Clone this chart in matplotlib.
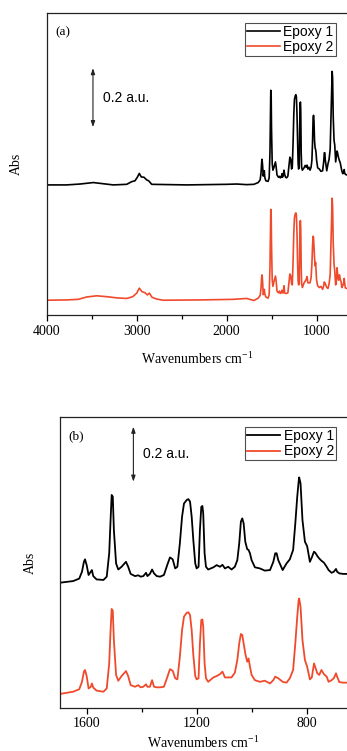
import matplotlib
matplotlib.use("Agg")
import matplotlib.pyplot as plt
from matplotlib.ticker import MultipleLocator

SERIF = "Liberation Serif"
SANS = "Liberation Sans"

# ---- data (absorbance, a.u.) ----
# high wavenumber region, 4000 - 1700 cm-1 (only visible in panel a)
wn_hi_1 = [4000, 3778, 3630, 3482, 3371, 3260, 3111, 3056, 3019, 2993, 2971, 2949,
           2919, 2889, 2867, 2833, 2667, 2444, 2222, 2000, 1889, 1778]
epoxy1_hi = [-0.002, -0.002, 0.001, 0.006, 0.002, -0.002, 0.000, 0.009, 0.012, 0.024,
             0.037, 0.025, 0.024, 0.015, 0.012, 0.000, -0.001, -0.002, -0.001, 0.000,
             0.001, -0.001]
wn_hi_2 = [4000, 3778, 3648, 3556, 3444, 3333, 3222, 3111, 3044, 3000, 2971, 2941,
           2911, 2881, 2859, 2830, 2778, 2704, 2296, 1926, 1778]
epoxy2_hi = [-0.001, 0.000, 0.002, 0.010, 0.014, 0.011, 0.007, 0.005, 0.011, 0.023,
             0.040, 0.028, 0.025, 0.017, 0.023, 0.009, 0.003, -0.001, 0.000, 0.002,
             0.005]

# fingerprint region, 1700 - 650 cm-1 (both panels)
wn_fp = [1698, 1650, 1628, 1618, 1611, 1607, 1601, 1594, 1586, 1582, 1577, 1565,
         1540, 1528, 1519, 1514, 1510, 1506, 1502, 1494, 1486, 1474, 1458, 1450,
         1441, 1425, 1413, 1405, 1395, 1385, 1380, 1371, 1363, 1356, 1346, 1334,
         1320, 1308, 1298, 1288, 1279, 1271, 1262, 1254, 1247, 1237, 1231, 1225,
         1219, 1213, 1206, 1201, 1194, 1189, 1184, 1180, 1177, 1172, 1167, 1159,
         1140, 1128, 1116, 1107, 1098, 1086, 1074, 1062, 1053, 1046, 1040, 1035,
         1030, 1024, 1017, 1012, 1007, 1001, 989, 971, 953, 934, 922, 915,
         910, 904, 888, 874, 862, 850, 842, 835, 830, 828, 823, 816,
         807, 799, 789, 782, 774, 768, 762, 755, 747, 738, 728, 721,
         710, 702, 694, 690, 682, 668, 656]
epoxy1_fp = [0.000, 0.006, 0.015, 0.040, 0.076, 0.085, 0.064, 0.028, 0.040, 0.046, 0.024, 0.012,
             0.010, 0.022, 0.107, 0.228, 0.319, 0.313, 0.192, 0.070, 0.048, 0.058, 0.076, 0.058,
             0.032, 0.024, 0.027, 0.022, 0.024, 0.036, 0.024, 0.032, 0.048, 0.034, 0.024, 0.022,
             0.028, 0.064, 0.092, 0.085, 0.052, 0.058, 0.143, 0.240, 0.288, 0.301, 0.304, 0.295,
             0.240, 0.155, 0.070, 0.052, 0.058, 0.192, 0.276, 0.279, 0.252, 0.107, 0.058, 0.048,
             0.056, 0.064, 0.058, 0.065, 0.052, 0.058, 0.048, 0.058, 0.082, 0.143, 0.222, 0.234,
             0.216, 0.149, 0.122, 0.119, 0.107, 0.082, 0.056, 0.052, 0.044, 0.046, 0.076, 0.107,
             0.107, 0.082, 0.046, 0.070, 0.085, 0.119, 0.216, 0.313, 0.367, 0.383, 0.361, 0.228,
             0.149, 0.133, 0.076, 0.092, 0.113, 0.107, 0.097, 0.088, 0.080, 0.073, 0.058, 0.046,
             0.036, 0.040, 0.050, 0.040, 0.034, 0.032, 0.032]
epoxy2_fp = [-0.002, 0.006, 0.015, 0.042, 0.079, 0.085, 0.063, 0.018, 0.024, 0.036, 0.021, 0.010,
             0.006, 0.018, 0.109, 0.230, 0.307, 0.301, 0.194, 0.067, 0.046, 0.063, 0.081, 0.063,
             0.030, 0.024, 0.030, 0.022, 0.024, 0.033, 0.024, 0.024, 0.048, 0.024, 0.022, 0.022,
             0.024, 0.058, 0.088, 0.082, 0.055, 0.051, 0.133, 0.230, 0.279, 0.293, 0.295, 0.285,
             0.230, 0.139, 0.063, 0.051, 0.055, 0.182, 0.267, 0.269, 0.242, 0.109, 0.055, 0.042,
             0.058, 0.063, 0.070, 0.079, 0.058, 0.058, 0.058, 0.075, 0.121, 0.182, 0.216, 0.212,
             0.182, 0.145, 0.115, 0.127, 0.097, 0.067, 0.048, 0.042, 0.046, 0.036, 0.048, 0.061,
             0.058, 0.055, 0.042, 0.039, 0.055, 0.085, 0.182, 0.279, 0.339, 0.345, 0.315, 0.194,
             0.121, 0.097, 0.051, 0.058, 0.109, 0.091, 0.073, 0.067, 0.085, 0.070, 0.061, 0.042,
             0.048, 0.055, 0.073, 0.061, 0.041, 0.039, 0.039]

labels = ["Epoxy 1", "Epoxy 2"]
colors = ["#000000", "#f04a2c"]

# full spectra
wn1 = wn_hi_1 + wn_fp
wn2 = wn_hi_2 + wn_fp
abs1 = epoxy1_hi + epoxy1_fp
abs2 = epoxy2_hi + epoxy2_fp

fig = plt.figure(figsize=(3.47, 7.51), dpi=100)

panels = [
    dict(rect=[0.1346, 0.5806, 0.8654, 0.4025], xlim=(4000, 663), ylim=(0, 1.025),
         off=(0.443, 0.051), major=1000, minor=500, tag="(a)",
         ax_x=3486, ax_y=(0.637, 0.837), full=True, lpad=9),
    dict(rect=[0.1729, 0.0577, 0.8271, 0.3866], xlim=(1698, 654), ylim=(0, 1.056),
         off=(0.4545, 0.052), major=400, minor=200, tag="(b)",
         ax_x=1431, ax_y=(0.822, 1.022), full=False, lpad=3),
]

for p in panels:
    ax = fig.add_axes(p["rect"])
    if p["full"]:
        ax.plot(wn1, [a + p["off"][0] for a in abs1], color=colors[0], lw=1.2, label=labels[0])
        ax.plot(wn2, [a + p["off"][1] for a in abs2], color=colors[1], lw=1.2, label=labels[1])
    else:
        ax.plot(wn_fp, [a + p["off"][0] for a in epoxy1_fp], color=colors[0], lw=1.3, label=labels[0])
        ax.plot(wn_fp, [a + p["off"][1] for a in epoxy2_fp], color=colors[1], lw=1.3, label=labels[1])
    ax.set_xlim(*p["xlim"])
    ax.set_ylim(*p["ylim"])
    ax.spines["right"].set_visible(False)
    for s in ("left", "top", "bottom"):
        ax.spines[s].set_color("#222222")
        ax.spines[s].set_linewidth(0.9)
    ax.set_yticks([])
    ax.xaxis.set_major_locator(MultipleLocator(p["major"]))
    ax.xaxis.set_minor_locator(MultipleLocator(p["minor"]))
    ax.tick_params(axis="x", which="major", direction="out", length=4, width=0.9,
                   labelsize=10, pad=3)
    ax.tick_params(axis="x", which="minor", direction="out", length=3, width=0.9)
    for t in ax.get_xticklabels():
        t.set_fontfamily(SERIF)
    ax.set_xlabel("Wavenumbers cm$^{\\mathregular{-1}}$", fontfamily=SERIF, fontsize=10,
                  labelpad=p["lpad"])
    ax.set_ylabel("Abs", fontfamily=SERIF, fontsize=10, labelpad=17)

    ax.text(0.03, 0.955, p["tag"], transform=ax.transAxes, fontfamily=SERIF,
            fontsize=9.5, va="top", ha="left")

    # 0.2 a.u. scale bar
    ax.annotate("", xy=(p["ax_x"], p["ax_y"][1]), xytext=(p["ax_x"], p["ax_y"][0]),
                arrowprops=dict(arrowstyle="<|-|>,head_length=0.35,head_width=0.12",
                                color="#222222", lw=0.8, shrinkA=0, shrinkB=0))
    ax.annotate("0.2 a.u.", xy=(p["ax_x"], sum(p["ax_y"]) / 2), xytext=(7, 0),
                textcoords="offset points", fontfamily=SANS, fontsize=10,
                va="center", ha="left")

    leg = ax.legend(loc="upper right", bbox_to_anchor=(0.963, 0.967), borderaxespad=0,
                    prop=dict(family=SANS, size=10), frameon=True, fancybox=False,
                    handlelength=2.4, handletextpad=0.25, borderpad=0.15,
                    labelspacing=0.1)
    leg.get_frame().set_edgecolor("#222222")
    leg.get_frame().set_linewidth(0.8)

fig.savefig("out.png", dpi=100)
